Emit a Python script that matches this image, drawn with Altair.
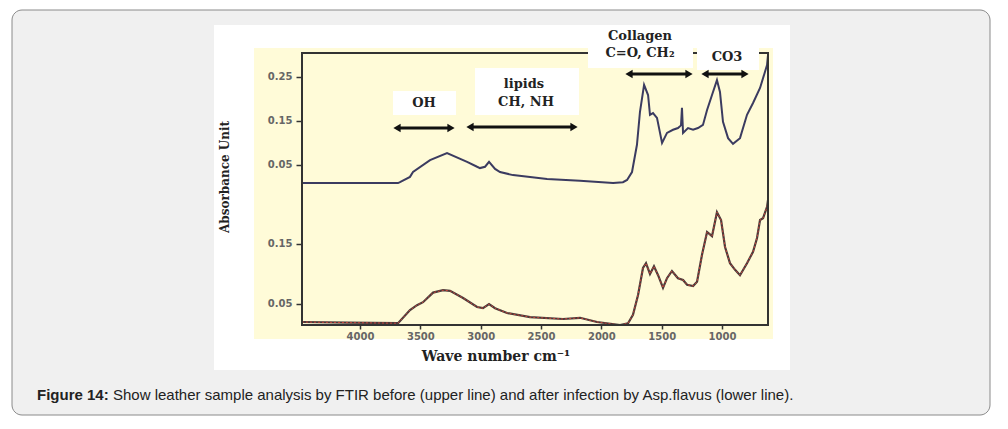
import altair as alt
import pandas as pd

# ---- data ----
upper_wn = [4481, 4000, 3685, 3669, 3586, 3561, 3420, 3279, 3113, 3030,
            3006, 2964, 2931, 2881, 2840, 2732, 2450, 2177, 1903, 1821,
            1787, 1746, 1705, 1680, 1646, 1613, 1597, 1572, 1539, 1497,
            1456, 1406, 1365, 1340, 1332, 1323, 1282, 1240, 1199, 1158,
            1124, 1083, 1042, 1017, 992, 950, 909, 851, 793, 743,
            685, 627, 619]
upper_abs = [0.009, 0.009, 0.009, 0.011, 0.023, 0.034, 0.061, 0.077, 0.057, 0.046,
             0.043, 0.046, 0.057, 0.041, 0.034, 0.027, 0.018, 0.014, 0.009, 0.011,
             0.016, 0.034, 0.096, 0.171, 0.232, 0.209, 0.164, 0.168, 0.157, 0.100,
             0.123, 0.130, 0.134, 0.140, 0.180, 0.123, 0.134, 0.130, 0.134, 0.141,
             0.175, 0.209, 0.243, 0.216, 0.148, 0.111, 0.098, 0.111, 0.164, 0.191,
             0.225, 0.277, 0.300]

lower_wn = [4481, 4100, 3685, 3586, 3528, 3478, 3395, 3312, 3254, 3146,
            3030, 2981, 2931, 2881, 2782, 2591, 2318, 2177, 2036, 1845,
            1779, 1738, 1696, 1655, 1630, 1597, 1564, 1530, 1489, 1456,
            1415, 1365, 1323, 1290, 1240, 1207, 1166, 1124, 1083, 1042,
            1008, 975, 934, 892, 851, 793, 743, 710, 685, 660,
            627, 619]
lower_abs = [0.020, 0.019, 0.018, 0.040, 0.048, 0.053, 0.069, 0.073, 0.072, 0.060,
             0.045, 0.043, 0.050, 0.043, 0.035, 0.028, 0.025, 0.027, 0.020, 0.015,
             0.018, 0.032, 0.065, 0.110, 0.118, 0.100, 0.113, 0.098, 0.077, 0.093,
             0.105, 0.093, 0.090, 0.082, 0.080, 0.087, 0.132, 0.170, 0.163, 0.203,
             0.190, 0.145, 0.118, 0.107, 0.098, 0.118, 0.137, 0.160, 0.190, 0.193,
             0.212, 0.223]

x_ticks = [4000, 3500, 3000, 2500, 2000, 1500, 1000]
upper_ticks = [0.05, 0.15, 0.25]
lower_ticks = [0.05, 0.15]

caption_bold = "Figure 14:"
caption_text = "Show leather sample analysis by FTIR before (upper line) and after infection by Asp.flavus (lower line)."

W, H = 466, 272
one = pd.DataFrame({"k": [0]})
upper_df = pd.DataFrame({"wn": upper_wn, "a": upper_abs})
lower_df = pd.DataFrame({"wn": lower_wn, "a": lower_abs})

SERIF = "DejaVu Serif"


def rect(x, x2, y, y2, **kw):
    return alt.Chart(one).mark_rect(**kw).encode(
        x=alt.value(x), x2=alt.value(x2), y=alt.value(y), y2=alt.value(y2))


def label(txt, x, y, size=13, font=SERIF, weight="bold", color="#222", **kw):
    return alt.Chart(one).mark_text(text=txt, font=font, fontSize=size, fontWeight=weight,
                                    color=color, **kw).encode(x=alt.value(x), y=alt.value(y))


def arrow(x1, x2, y):
    shaft = alt.Chart(one).mark_rule(color="#111", strokeWidth=3).encode(
        x=alt.value(x1 + 4), x2=alt.value(x2 - 4), y=alt.value(y))
    lh = alt.Chart(one).mark_point(shape="triangle-left", filled=True, size=70, color="#111",
                                   opacity=1).encode(x=alt.value(x1 + 4), y=alt.value(y))
    rh = alt.Chart(one).mark_point(shape="triangle-right", filled=True, size=70, color="#111",
                                   opacity=1).encode(x=alt.value(x2 - 4), y=alt.value(y))
    return [shaft, lh, rh]


xscale = alt.Scale(domain=[619, 4481], reverse=True, nice=False, zero=False)
xaxis = alt.Axis(values=x_ticks, title=None, grid=False, domain=False, tickSize=4,
                 tickColor="#333", tickWidth=1.5, labelPadding=2, labelFont="DejaVu Sans",
                 labelFontWeight="bold", labelFontSize=10, labelColor="#666", zindex=1,
                 format="d")

ax_common = dict(title=None, grid=False, domain=False, tickSize=6, tickColor="#333",
                 tickWidth=1.5, labelPadding=4, labelFont="DejaVu Sans",
                 labelFontWeight="bold", labelFontSize=10, labelColor="#666",
                 orient="left", zindex=1, format=".2f")

upper_line = alt.Chart(upper_df).mark_line(color="#3b3b60", strokeWidth=2).encode(
    x=alt.X("wn:Q", scale=xscale, axis=xaxis),
    y=alt.Y("a:Q", scale=alt.Scale(domain=[-0.3136, 0.3045], nice=False, zero=False),
            axis=alt.Axis(values=upper_ticks, **ax_common)))

lower_line = alt.Chart(lower_df).mark_line(color="#4a3a3a", strokeWidth=2.2).encode(
    x=alt.X("wn:Q", scale=xscale, axis=xaxis),
    y=alt.Y("a:Q", scale=alt.Scale(domain=[0.015, 0.4683], nice=False, zero=False),
            axis=alt.Axis(values=lower_ticks, **ax_common)))

lower_red = alt.Chart(lower_df).mark_line(color="#c8453a", strokeWidth=1, strokeDash=[2, 2]).encode(
    x=alt.X("wn:Q", scale=xscale),
    y=alt.Y("a:Q", scale=alt.Scale(domain=[0.015, 0.4683], nice=False, zero=False), axis=None))

layers = [
    # page panel, figure image, cream plot background
    alt.Chart(one).mark_rect(fill="#f0f0f0", stroke="#8a8a8a", strokeWidth=1, cornerRadius=10).encode(
        x=alt.value(-290), x2=alt.value(688), y=alt.value(-43), y2=alt.value(362)),
    rect(-88, 488, -28, 317, fill="#ffffff"),
    rect(-48, 471, -5, 286, fill="#fffbd8"),
    upper_line,
    lower_line,
    # frame
    alt.Chart(one).mark_rect(fillOpacity=0, stroke="#333", strokeWidth=2).encode(
        x=alt.value(0), x2=alt.value(W), y=alt.value(0), y2=alt.value(H)),
    # label boxes
    rect(91, 154, 38, 62, fill="#ffffff"),
    rect(173, 277, 15, 62, fill="#ffffff"),
    rect(286, 391, -26, 15, fill="#ffffff"),
    rect(395, 457, -6, 17, fill="#ffffff"),
    label("OH", 122, 50),
    label("lipids", 222, 31),
    label("CH, NH", 224, 49),
    label("Collagen", 338, -17),
    label("C=O, CH\u2082", 338, 0),
    label("CO3", 425, 4),
    label("Absorbance Unit", -77, 124, size=12, angle=270),
    label("Wave number cm\u207b\u00b9", 194, 304, size=14),
    label(caption_bold, -265, 342, size=15, font="Liberation Sans", weight="bold", color="#222",
          align="left"),
    label(caption_text, -189, 342, size=15, font="Liberation Sans", weight="normal", color="#222",
          align="left"),
]
layers += arrow(91, 153, 75)
layers += arrow(164, 276, 74)
layers += arrow(323, 391, 21)
layers += arrow(399, 447, 21)
layers.insert(5, lower_red)

chart = alt.layer(*layers).resolve_scale(y="independent").properties(
    width=W, height=H, autosize="none",
    padding={"left": 302, "top": 53, "right": 240, "bottom": 104},
    background="#ffffff",
).configure_view(strokeWidth=0)

chart.save("out.html", embed_options={"renderer": "svg", "actions": False})
